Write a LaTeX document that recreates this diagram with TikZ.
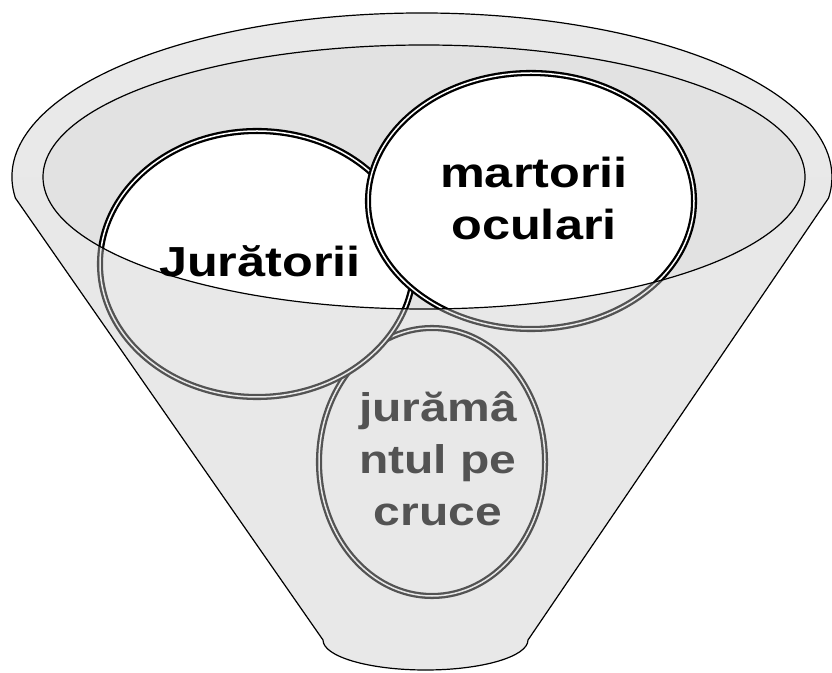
\documentclass[tikz,border=0pt]{standalone}
\usepackage{fontspec}
\newfontfamily\funnelfont{Liberation Sans}[FakeStretch=1.2]
\usetikzlibrary{shapes.geometric,shadows}
\definecolor{funnelgray}{RGB}{233,233,233}
\definecolor{innergray}{RGB}{226,226,226}
\definecolor{veilgray}{RGB}{201,201,201}
% outline of the whole funnel and of its front part
\def\funnelpath{(15.4,473.9) arc[start angle=187.4,end angle=-7.4,x radius=410,y radius=164]
  -- (528,32) arc[start angle=0,end angle=-180,x radius=102.5,y radius=30] -- cycle}
\def\frontpath{(12,495) arc[start angle=180,end angle=187.4,x radius=410,y radius=164]
  -- (323,32) arc[start angle=180,end angle=360,x radius=102.5,y radius=30]
  -- (828.6,473.9) arc[start angle=-7.4,end angle=0,x radius=410,y radius=164]
  -- (805,495) arc[start angle=0,end angle=-180,x radius=381,y radius=132] -- cycle}

\begin{document}
\begin{tikzpicture}[x=1pt,y=1pt]
\tikzset{ring/.style = {ellipse,draw=black,double=white,double distance=1.5pt,line width=2.3pt,
    fill=white,inner sep=0pt,outer sep=0pt,
    drop shadow={opacity=0.3,shadow xshift=1pt,shadow yshift=-3pt}},
  ringtext/.style = {font=\funnelfont\bfseries\fontsize{42}{52}\selectfont,align=center,inner sep=0pt}}
\fill[white] (0,0) rectangle (832,672);
\useasboundingbox (0,0) rectangle (832,672);
% funnel body
\fill[funnelgray] \funnelpath;
\fill[white] \frontpath;
\fill[innergray] (424,495) ellipse[x radius=381,y radius=132];
% rings
\foreach \name/\x/\y/\w/\h in {jurcr/432/210/226/268,jur/257/408/314/266,mart/531/471/326/256} {
    \node[ring,minimum width=\w,minimum height=\h] (\name) at (\x,\y) {};
}
\node[ringtext,font=\funnelfont\bfseries\fontsize{40}{52}\selectfont] (jurcrtxt) at (438,213) {jurămâ\\ntul pe\\cruce};
% front of the funnel
\fill[veilgray,fill opacity=0.416] \frontpath;
\draw[line width=1.2pt] \funnelpath;
\draw[line width=1.2pt] (424,495) ellipse[x radius=381,y radius=132];
\node[ringtext] (marttxt) at (534,473.5) {martorii\\oculari};
\node[ringtext,anchor=base] (jurtxt) at (260,395) {Jurătorii};
\end{tikzpicture}
\end{document}
